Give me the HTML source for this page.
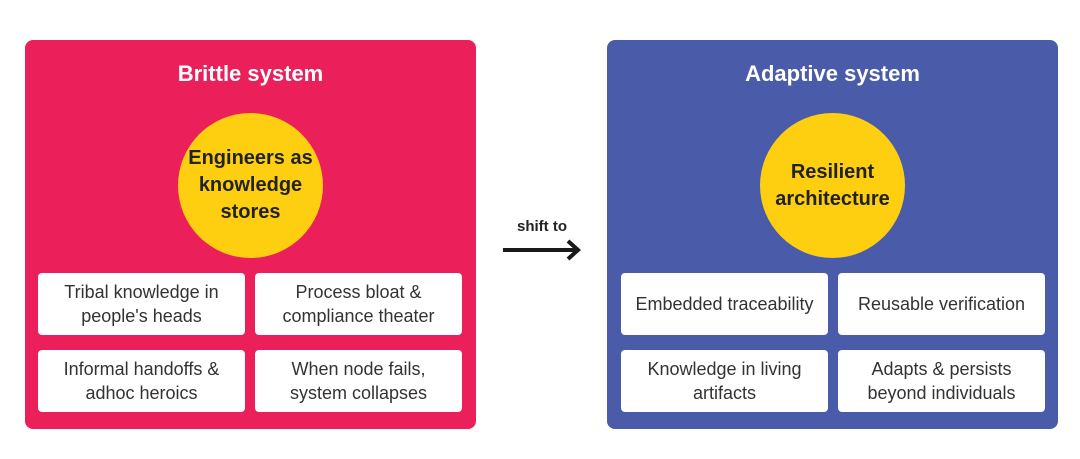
<!DOCTYPE html>
<html><head><style>
body{margin:0;width:1080px;height:459px;background:#fff;position:relative;font-family:"Liberation Sans",sans-serif;overflow:hidden}
.p{position:absolute;top:40px;width:451px;height:389px;border-radius:8px}
.t{position:absolute;top:61px;width:451px;text-align:center;color:#fff;font-weight:bold;font-size:22px}
.c{position:absolute;top:113px;width:145px;height:145px;border-radius:50%;background:#FDCF10;display:flex;align-items:center;justify-content:center;text-align:center;font-weight:bold;font-size:20px;line-height:27px;color:#222}
.b{position:absolute;width:207px;height:62px;background:#fff;border-radius:4px;display:flex;align-items:center;justify-content:center;text-align:center;font-size:18px;line-height:24px;color:#333}
</style></head><body>
<div class="p" style="left:25px;background:#EB1F5A"></div>
<div class="t" style="left:25px">Brittle system</div>
<div class="c" style="left:178px">Engineers as<br>knowledge<br>stores</div>
<div class="b" style="left:38px;top:273px">Tribal knowledge in<br>people's heads</div>
<div class="b" style="left:255px;top:273px">Process bloat &amp;<br>compliance theater</div>
<div class="b" style="left:38px;top:350px">Informal handoffs &amp;<br>adhoc heroics</div>
<div class="b" style="left:255px;top:350px">When node fails,<br>system collapses</div>

<div class="p" style="left:607px;background:#4A5BA9"></div>
<div class="t" style="left:607px">Adaptive system</div>
<div class="c" style="left:760px">Resilient<br>architecture</div>
<div class="b" style="left:621px;top:273px">Embedded traceability</div>
<div class="b" style="left:838px;top:273px">Reusable verification</div>
<div class="b" style="left:621px;top:350px">Knowledge in living<br>artifacts</div>
<div class="b" style="left:838px;top:350px">Adapts &amp; persists<br>beyond individuals</div>

<div style="position:absolute;left:502px;top:218px;width:80px;text-align:center;font-weight:bold;font-size:15px;color:#222">shift to</div>
<svg style="position:absolute;left:500px;top:236px" width="85" height="28"><line x1="3" y1="14" x2="78" y2="14" stroke="#1a1a1a" stroke-width="4"/><polyline points="68,5 78,14 68,23" fill="none" stroke="#1a1a1a" stroke-width="4"/></svg>
</body></html>
